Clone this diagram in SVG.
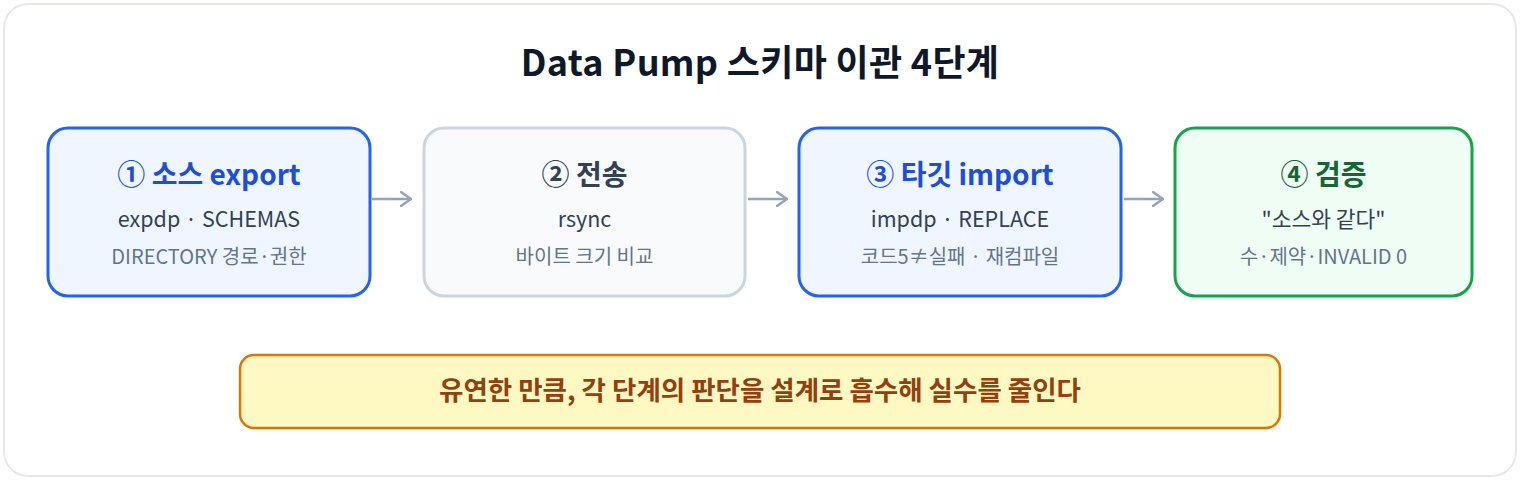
<svg xmlns="http://www.w3.org/2000/svg" width="1520" height="480" viewBox="0 0 1520 480">
<defs>
<style>
text{font-family:"Noto Sans CJK KR","Noto Sans",sans-serif;text-anchor:middle}
.t{font-size:28px;font-weight:700}
.s{font-size:21.5px;fill:#334155}
.m{font-size:20px;fill:#64748b}
.conn{stroke:#94a3b8;stroke-width:2.5;fill:none}
</style>
<marker id="ah" viewBox="0 0 12 16" refX="11" refY="8" markerWidth="12" markerHeight="16" markerUnits="userSpaceOnUse" orient="auto">
<path d="M1 1 L11 8 L1 15" fill="none" stroke="#94a3b8" stroke-width="2.5" stroke-linecap="round" stroke-linejoin="round"/>
</marker>
</defs>
<rect x="0" y="0" width="1520" height="480" fill="#ffffff"/>
<rect x="4" y="4" width="1512" height="472" rx="24" fill="#ffffff" stroke="#e2e8f0" stroke-width="2"/>
<text x="760" y="76" font-size="36" font-weight="700" fill="#0f172a" letter-spacing="0.3">Data Pump 스키마 이관 4단계</text>
<g id="connectors">
<line class="conn" x1="372" y1="199" x2="411" y2="199" marker-end="url(#ah)"/>
<line class="conn" x1="748" y1="199" x2="787" y2="199" marker-end="url(#ah)"/>
<line class="conn" x1="1124" y1="199" x2="1163" y2="199" marker-end="url(#ah)"/>
</g>
<g id="node1">
<rect x="48" y="128" width="322" height="168" rx="20" fill="#eff6ff" stroke="#2563eb" stroke-width="3"/>
<text class="t" x="209" y="184.5" fill="#1d4ed8">① 소스 export</text>
<text class="s" x="209" y="227">expdp · SCHEMAS</text>
<text class="m" x="209" y="264">DIRECTORY 경로·권한</text>
</g>
<g id="node2">
<rect x="424" y="128" width="321" height="168" rx="20" fill="#f8fafc" stroke="#cbd5e1" stroke-width="3"/>
<text class="t" x="584.5" y="184.5" fill="#334155">② 전송</text>
<text class="s" x="584.5" y="227">rsync</text>
<text class="m" x="584.5" y="264">바이트 크기 비교</text>
</g>
<g id="node3">
<rect x="799" y="128" width="322" height="168" rx="20" fill="#eff6ff" stroke="#2563eb" stroke-width="3"/>
<text class="t" x="960" y="184.5" fill="#1d4ed8">③ 타깃 import</text>
<text class="s" x="960" y="227">impdp · REPLACE</text>
<text class="m" x="960" y="264">코드5≠실패 · 재컴파일</text>
</g>
<g id="node4">
<rect x="1175" y="128" width="297" height="168" rx="20" fill="#f0fdf4" stroke="#16a34a" stroke-width="3"/>
<text class="t" x="1323.5" y="184.5" fill="#166534">④ 검증</text>
<text class="s" x="1323.5" y="227">"소스와 같다"</text>
<text class="m" x="1323.5" y="264">수·제약·INVALID 0</text>
</g>
<g id="banner">
<rect x="240" y="355" width="1040" height="73" rx="14" fill="#fef9c3" stroke="#d97706" stroke-width="2.5"/>
<text x="760" y="400" font-size="26.5" font-weight="700" fill="#92400e">유연한 만큼, 각 단계의 판단을 설계로 흡수해 실수를 줄인다</text>
</g>
</svg>
